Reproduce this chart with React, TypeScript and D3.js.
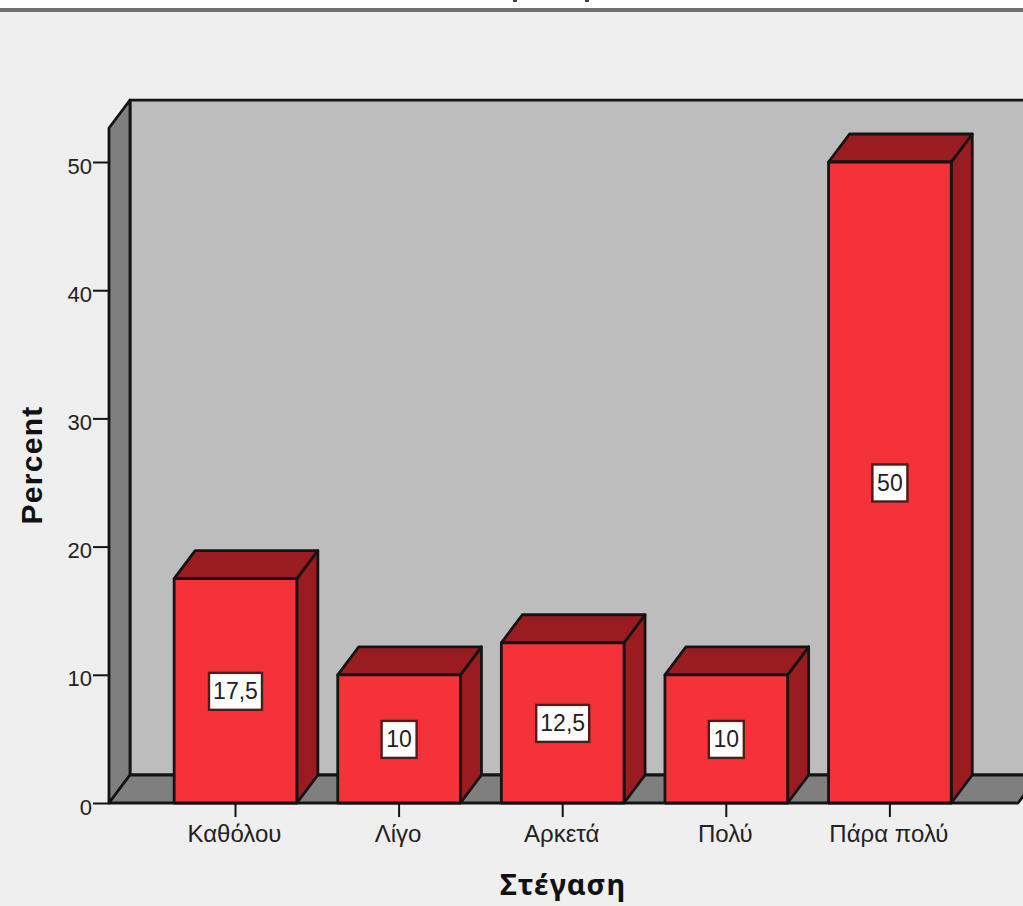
import React, { useEffect, useRef } from 'react';
import * as d3 from 'd3';

const categories = ['Καθόλου', 'Λίγο', 'Αρκετά', 'Πολύ', 'Πάρα πολύ'];
const percents = [17.5, 10, 12.5, 10, 50];
const valueLabels = ['17,5', '10', '12,5', '10', '50'];
const yTicks = [0, 10, 20, 30, 40, 50];
const yAxisTop = 52.65;

const width = 1023;
const height = 906;
const depthX = 21;
const depthY = 28;
const ink = '#141414';
const sans = '"Liberation Sans", Arial, sans-serif';

export default function App() {
    const svgRef = useRef<SVGSVGElement | null>(null);

    useEffect(() => {
        if (!svgRef.current) return;
        const svg = d3.select(svgRef.current);
        svg.selectAll('*').remove();

        const x = d3.scaleBand<string>()
            .domain(categories)
            .range([153.7, 971.7])
            .paddingInner(0.25)
            .paddingOuter(0.125);
        const y = d3.scaleLinear().domain([0, 50]).range([803, 162]);

        const left = 109;
        const right = 1018;
        const y0 = y(0);
        const yTop = y(yAxisTop);
        const line = d3.line();

        // page background and the band at the top
        svg.append('rect').attr('width', width).attr('height', height).attr('fill', '#efefef');
        svg.append('rect').attr('width', width).attr('height', 8).attr('fill', '#ffffff');
        svg.append('rect').attr('y', 8).attr('width', width).attr('height', 4).attr('fill', '#707070');
        svg.append('path').attr('d', 'M515,0V2M587,0V2').attr('stroke', '#444').attr('stroke-width', 4);

        // chart walls
        const poly = (pts: [number, number][], fill: string) =>
            svg.append('path')
                .attr('d', line(pts)! + 'Z')
                .attr('fill', fill)
                .attr('stroke', ink)
                .attr('stroke-width', 2.8)
                .attr('stroke-linejoin', 'round');

        poly([[left + depthX, yTop - depthY], [right + depthX, yTop - depthY], [right + depthX, y0 - depthY], [left + depthX, y0 - depthY]], '#bdbdbd');
        poly([[left, yTop], [left + depthX, yTop - depthY], [left + depthX, y0 - depthY], [left, y0]], '#7f7f7f');
        poly([[left, y0], [left + depthX, y0 - depthY], [right + depthX, y0 - depthY], [right, y0]], '#7f7f7f');

        // bars
        categories.forEach((c, i) => {
            const x0 = x(c)!;
            const x1 = x0 + x.bandwidth();
            const top = y(percents[i]);
            poly([[x1, top], [x1 + depthX, top - depthY], [x1 + depthX, y0 - depthY], [x1, y0]], '#9a1c20');
            poly([[x0, top], [x0 + depthX, top - depthY], [x1 + depthX, top - depthY], [x1, top]], '#9a1c20');
            poly([[x0, top], [x1, top], [x1, y0], [x0, y0]], '#f5323a');
        });

        // value labels
        categories.forEach((c, i) => {
            const cx = x(c)! + x.bandwidth() / 2;
            const cy = y(percents[i] / 2) + 0.5;
            const w = valueLabels[i].length > 2 ? 53 : 35;
            svg.append('rect')
                .attr('x', cx - w / 2).attr('y', cy - 18.5)
                .attr('width', w).attr('height', 37)
                .attr('fill', '#ffffff')
                .attr('stroke', '#4a1f1c').attr('stroke-width', 2.4);
            svg.append('text')
                .attr('x', cx).attr('y', cy + 8)
                .attr('text-anchor', 'middle')
                .attr('font-family', sans).attr('font-size', 23).attr('fill', '#222')
                .text(valueLabels[i]);
        });

        // axes
        const yAxis = svg.append('g').attr('transform', `translate(${left},0)`)
            .call(d3.axisLeft(y).tickValues(yTicks).tickSize(16).tickPadding(1));
        yAxis.select('.domain').remove();
        yAxis.selectAll('line').attr('stroke', ink).attr('stroke-width', 2);
        yAxis.selectAll('text').attr('font-family', sans).attr('font-size', 22).attr('fill', '#222').attr('y', 4);

        const xAxis = svg.append('g').attr('transform', `translate(0,${y0})`)
            .call(d3.axisBottom(x).tickSize(14).tickPadding(8));
        xAxis.select('.domain').remove();
        xAxis.selectAll('line').attr('stroke', ink).attr('stroke-width', 2);
        xAxis.selectAll('text').attr('font-family', sans).attr('font-size', 24).attr('fill', '#222').attr('dx', -1);

        // axis titles
        svg.append('text')
            .attr('transform', 'translate(42,465) rotate(-90)')
            .attr('text-anchor', 'middle')
            .attr('font-family', sans).attr('font-size', 30).attr('font-weight', 'bold')
            .attr('letter-spacing', 1.3).attr('fill', '#111')
            .text('Percent');
        svg.append('text')
            .attr('x', 563).attr('y', 895)
            .attr('text-anchor', 'middle')
            .attr('font-family', '"Noto Sans", sans-serif').attr('font-size', 29).attr('font-weight', 'bold')
            .attr('letter-spacing', 1).attr('fill', '#111')
            .text('Στέγαση');
    }, []);

    return (
        <svg
            ref={svgRef}
            width={width}
            height={height}
            style={{ position: 'absolute', top: 0, left: 0, display: 'block' }}
        />
    );
}
